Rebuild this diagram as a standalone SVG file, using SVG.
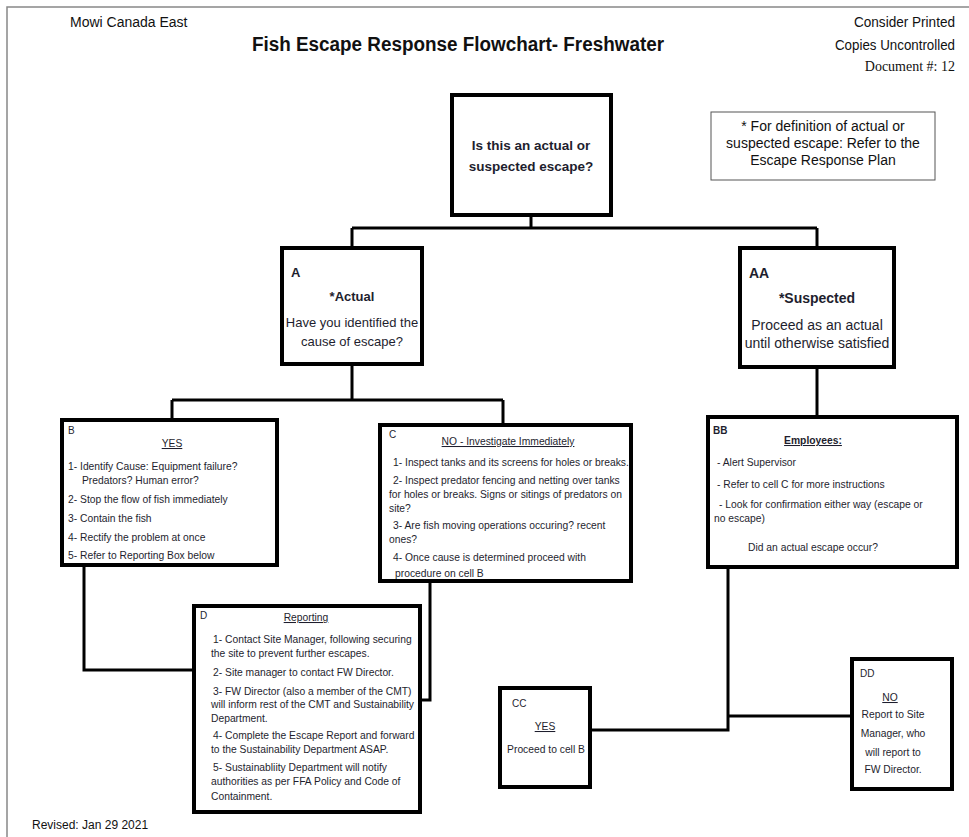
<svg xmlns="http://www.w3.org/2000/svg" width="969" height="837" viewBox="0 0 969 837">
<style>
.box{fill:#fff;stroke:#000;stroke-width:4}
.note{fill:#fff;stroke:#555;stroke-width:1}
.con{fill:none;stroke:#000;stroke-width:3}
.hd{font-family:"Liberation Sans",Arial,sans-serif;font-size:14px;fill:#111}
.t{font-family:"Liberation Sans",Arial,sans-serif;font-size:10.3px;fill:#1e1e2e}
.m{font-family:"Liberation Sans",Arial,sans-serif;font-size:14px;fill:#1e1e2e}
.b{font-weight:bold}
.c{text-anchor:middle}
.u{text-decoration:underline}
.s10{font-size:10px}
.s12{font-size:12px}
.s13{font-size:13px}
.s135{font-size:13.5px}
</style>
<rect width="969" height="837" fill="#fff"/>
<path d="M7 837 V7 H969" fill="none" stroke="#888" stroke-width="1.5"/>
<text class="hd" x="70" y="27">Mowi Canada East</text>
<text class="hd b c" x="458" y="51" style="font-size:20px" textLength="412" lengthAdjust="spacingAndGlyphs">Fish Escape Response Flowchart- Freshwater</text>
<text class="hd" x="955" y="27" text-anchor="end" textLength="101" lengthAdjust="spacingAndGlyphs">Consider Printed</text>
<text class="hd" x="955" y="50" text-anchor="end" textLength="120" lengthAdjust="spacingAndGlyphs">Copies Uncontrolled</text>
<text x="955" y="71" text-anchor="end" font-family="'Liberation Serif',serif" font-size="14" fill="#111">Document #: 12</text>
<text class="hd s12" x="32" y="829">Revised: Jan 29 2021</text>
<g id="connectors">
<path class="con" d="M531 215 V228 M352 228 H817 M352 228 V248 M817 228 V248"/>
<path class="con" d="M352 364 V400 M172 400 H503 M172 400 V420 M503 400 V425"/>
<path class="con" d="M817 367 V417"/>
<path class="con" d="M84 565 V670 H194"/>
<path class="con" d="M430 581 V700 H420"/>
<path class="con" d="M728 567 V730 H590 M728 716 H852"/>
</g>
<g id="q">
<rect class="box" x="452" y="95" width="159" height="120"/>
<text class="m b c s135" x="531" y="150">Is this an actual or</text>
<text class="m b c s135" x="531" y="171">suspected escape?</text>
</g>
<g id="note">
<rect class="note" x="711" y="112" width="224" height="68"/>
<text class="hd c" x="823" y="131">* For definition of actual or</text>
<text class="hd c" x="823" y="148">suspected escape: Refer to the</text>
<text class="hd c" x="823" y="165">Escape Response Plan</text>
</g>
<g id="A">
<rect class="box" x="282" y="248" width="140" height="116"/>
<text class="m b s13" x="291" y="277">A</text>
<text class="m b c s13" x="352" y="301">*Actual</text>
<text class="m c s13" x="352" y="327">Have you identified the</text>
<text class="m c s13" x="352" y="346">cause of escape?</text>
</g>
<g id="AA">
<rect class="box" x="740" y="248" width="154" height="119"/>
<text class="m b" x="749" y="278">AA</text>
<text class="m b c" x="817" y="303">*Suspected</text>
<text class="m c" x="817" y="330">Proceed as an actual</text>
<text class="m c" x="817" y="348">until otherwise satisfied</text>
</g>
<g id="B">
<rect class="box" x="62" y="420" width="215" height="145"/>
<text class="t s10" x="68" y="434">B</text>
<text class="t c u" x="172" y="447">YES</text>
<text class="t" x="68" y="470">1- Identify Cause: Equipment failure?</text>
<text class="t" x="82" y="484">Predators?  Human error?</text>
<text class="t" x="68" y="503">2- Stop the flow of fish immediately</text>
<text class="t" x="68" y="522">3- Contain the fish</text>
<text class="t" x="68" y="541">4- Rectify the problem at once</text>
<text class="t" x="68" y="559">5- Refer to Reporting Box below</text>
</g>
<g id="C">
<rect class="box" x="380" y="425" width="251" height="156"/>
<text class="t s10" x="389" y="438">C</text>
<text class="t c u" x="508" y="445">NO - Investigate Immediately</text>
<text class="t" x="393" y="466">1- Inspect tanks and its screens for holes or breaks.</text>
<text class="t" x="393" y="484">2- Inspect predator fencing and netting over tanks</text>
<text class="t" x="389" y="498">for holes or breaks. Signs or sitings of predators on</text>
<text class="t" x="389" y="512">site?</text>
<text class="t" x="393" y="529">3- Are fish moving operations occuring? recent</text>
<text class="t" x="389" y="543">ones?</text>
<text class="t" x="393" y="561">4- Once cause is determined proceed with</text>
<text class="t" x="395" y="577">procedure on cell B</text>
</g>
<g id="BB">
<rect class="box" x="708" y="417" width="249" height="150"/>
<text class="t b s10" x="713" y="434">BB</text>
<text class="t b c u" x="813" y="444">Employees:</text>
<text class="t" x="717" y="466"> - Alert Supervisor</text>
<text class="t" x="717" y="488">-  Refer to cell C for more instructions</text>
<text class="t" x="719" y="508">- Look for confirmation either way (escape or</text>
<text class="t" x="714" y="522">no escape)</text>
<text class="t c" x="813" y="551">Did an actual escape occur?</text>
</g>
<g id="D">
<rect class="box" x="194" y="606" width="226" height="206"/>
<text class="t s10" x="200" y="619">D</text>
<text class="t c u" x="306" y="621">Reporting</text>
<text class="t" x="213" y="643">1- Contact Site Manager, following securing</text>
<text class="t" x="211" y="657">the site to prevent further escapes.</text>
<text class="t" x="213" y="676">2- Site manager to contact FW Director.</text>
<text class="t" x="213" y="695">3- FW Director (also a member of the CMT)</text>
<text class="t" x="211" y="708">will inform rest of the CMT and Sustainability</text>
<text class="t" x="211" y="722">Department.</text>
<text class="t" x="213" y="739">4- Complete the Escape Report and forward</text>
<text class="t" x="211" y="753">to the Sustainability Department ASAP.</text>
<text class="t" x="213" y="771">5- Sustainabliity Department will notify</text>
<text class="t" x="211" y="785">authorities as per FFA Policy and Code of</text>
<text class="t" x="211" y="800">Containment.</text>
</g>
<g id="CC">
<rect class="box" x="500" y="688" width="90" height="99"/>
<text class="t s10" x="512" y="707">CC</text>
<text class="t c u" x="545" y="730">YES</text>
<text class="t c" x="546" y="753">Proceed to cell B</text>
</g>
<g id="DD">
<rect class="box" x="852" y="659" width="100" height="130"/>
<text class="t s10" x="860" y="677">DD</text>
<text class="t c u" x="890" y="701">NO</text>
<text class="t c" x="893" y="718">Report to Site</text>
<text class="t c" x="893" y="737">Manager, who</text>
<text class="t c" x="893" y="756">will report to</text>
<text class="t c" x="893" y="773">FW Director.</text>
</g>
</svg>
